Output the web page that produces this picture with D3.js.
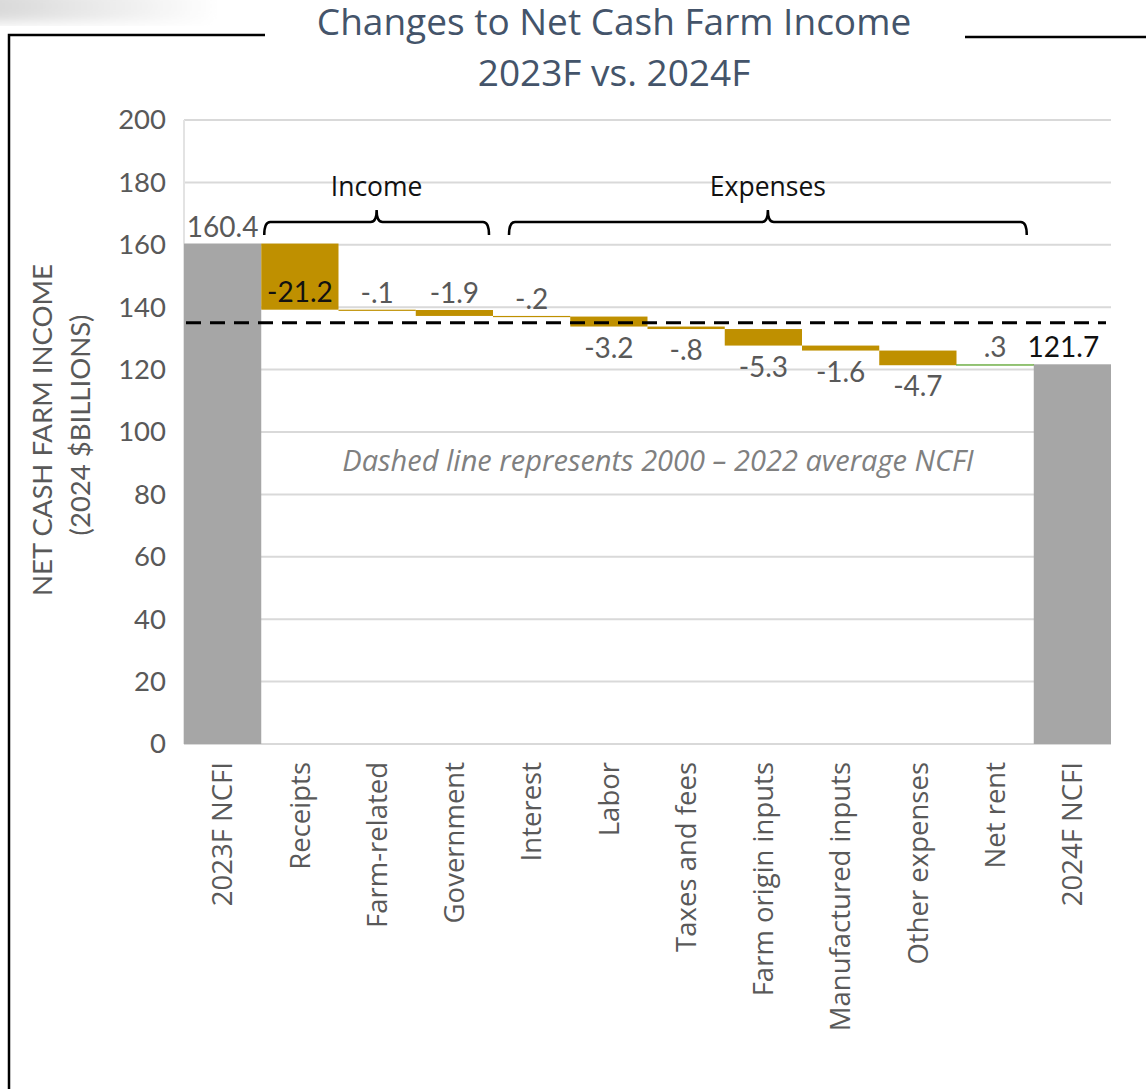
<!DOCTYPE html>
<html>
<head>
<meta charset="utf-8">
<script src="https://cdn.jsdelivr.net/npm/d3@7"></script>
<style>
  html, body { margin: 0; padding: 0; background: #fff; }
  svg { display: block; }
</style>
</head>
<body>
<div class="chart"></div>
<script>
// data
const categories = ["2023F NCFI", "Receipts", "Farm-related", "Government", "Interest", "Labor",
    "Taxes and fees", "Farm origin inputs", "Manufactured inputs", "Other expenses", "Net rent", "2024F NCFI"]
const startTotal = 160.4
const changes = [-21.2, -0.1, -1.9, -0.2, -3.2, -0.8, -5.3, -1.6, -4.7, 0.3]
const endTotal = 121.7
const labels = ["160.4", "-21.2", "-.1", "-1.9", "-.2", "-3.2", "-.8", "-5.3", "-1.6", "-4.7", ".3", "121.7"]
const yTicks = [0, 20, 40, 60, 80, 100, 120, 140, 160, 180, 200]
const averageNcfi = 135.0
const groups = [
    { name: "Income", from: "Receipts", to: "Government" },
    { name: "Expenses", from: "Interest", to: "Net rent" }
]

const W = 1146, H = 1089
const svg = d3.select(".chart").append("svg")
    .attr("width", W)
    .attr("height", H)

// faded corner smudge
const defs = svg.append("defs")
const grad = defs.append("linearGradient").attr("id", "smudge").attr("x1", 0).attr("x2", 1)
grad.append("stop").attr("offset", "0%").attr("stop-color", "#d6d6d6")
grad.append("stop").attr("offset", "100%").attr("stop-color", "#ffffff")
defs.append("filter").attr("id", "blur").append("feGaussianBlur").attr("stdDeviation", 6)
svg.append("rect")
    .attr("x", -20).attr("y", -10).attr("width", 240).attr("height", 32)
    .attr("fill", "url(#smudge)")
    .attr("filter", "url(#blur)")

// frame
const frame = svg.append("g").attr("stroke", "#000").attr("stroke-width", 2.5).attr("fill", "none")
frame.append("path").attr("d", "M9,1089 V35 H265")
frame.append("path").attr("d", "M965,37 H1146")

// title
svg.append("text")
    .attr("x", 614).attr("text-anchor", "middle")
    .style("font-family", "'Open Sans', sans-serif")
    .style("font-size", "37px")
    .attr("fill", "#44546a")
    .selectAll("tspan")
    .data(["Changes to Net Cash Farm Income", "2023F vs. 2024F"])
    .enter().append("tspan")
    .attr("x", 614)
    .attr("y", (d, i) => 35 + i * 51)
    .text(d => d)

const x = d3.scaleBand().domain(categories).range([184, 1111]).paddingInner(0).paddingOuter(0)
const y = d3.scaleLinear().domain([0, 200]).range([744, 120])

// gridlines
svg.append("g")
    .selectAll("line")
    .data(yTicks)
    .enter().append("line")
    .attr("x1", 184).attr("x2", 1111)
    .attr("y1", d => y(d)).attr("y2", d => y(d))
    .attr("stroke", "#d9d9d9").attr("stroke-width", 2)
svg.append("line")
    .attr("x1", 184).attr("x2", 184).attr("y1", y(200)).attr("y2", y(0))
    .attr("stroke", "#e3e3e3").attr("stroke-width", 2)

// y axis
const yAxis = svg.append("g")
    .attr("transform", "translate(184,0)")
    .call(d3.axisLeft(y).tickValues(yTicks).tickSize(0).tickPadding(18))
yAxis.select(".domain").remove()
yAxis.selectAll("text")
    .style("font-family", "Lato, sans-serif")
    .style("font-size", "27.5px")
    .attr("fill", "#595959")

// x axis
const xAxis = svg.append("g")
    .attr("transform", "translate(0,744)")
    .call(d3.axisBottom(x).tickSize(0))
xAxis.select(".domain").remove()
xAxis.selectAll("text")
    .style("font-family", "'Open Sans', sans-serif")
    .style("font-size", "27.5px")
    .attr("fill", "#595959")
    .attr("text-anchor", "end")
    .attr("transform", "rotate(-90)")
    .attr("x", -18)
    .attr("y", 0)
    .attr("dy", "0.35em")
    .attr("dx", 0)

// y title
svg.append("text")
    .attr("transform", "translate(0,430) rotate(-90)")
    .attr("text-anchor", "middle")
    .style("font-family", "Lato, sans-serif")
    .style("font-size", "27.5px")
    .attr("fill", "#595959")
    .selectAll("tspan")
    .data(["NET CASH FARM INCOME", "(2024 $BILLIONS)"])
    .enter().append("tspan")
    .attr("x", (d, i) => i ? 5 : 0)
    .attr("y", (d, i) => 52 + i * 38)
    .text(d => d)

// waterfall steps
let running = startTotal
const steps = [{ cat: categories[0], lo: 0, hi: startTotal, kind: "total", label: labels[0] }]
changes.forEach((c, i) => {
    const next = running + c
    steps.push({
        cat: categories[i + 1],
        lo: Math.min(running, next),
        hi: Math.max(running, next),
        kind: c < 0 ? "down" : "up",
        label: labels[i + 1]
    })
    running = next
})
steps.push({ cat: categories[11], lo: 0, hi: endTotal, kind: "total", label: labels[11] })

const fills = { total: "#a6a6a6", down: "#bf9000", up: "#a9d18e" }

svg.append("g")
    .selectAll("rect")
    .data(steps)
    .enter().append("rect")
    .attr("x", d => x(d.cat))
    .attr("width", x.bandwidth())
    .attr("y", d => y(d.hi))
    .attr("height", d => Math.max(1.2, y(d.lo) - y(d.hi)))
    .attr("fill", d => fills[d.kind])
    .attr("stroke", d => d.kind == "up" ? "#70ad47" : "none")
    .attr("stroke-width", d => d.kind == "up" ? 0.6 : 0)

// dashed average
svg.append("line")
    .attr("x1", 186).attr("x2", 1106)
    .attr("y1", y(averageNcfi)).attr("y2", y(averageNcfi))
    .attr("stroke", "#000").attr("stroke-width", 3)
    .attr("stroke-dasharray", "15,9")

// value labels
const inside = new Set(["Receipts"])
const below = new Set(["Labor", "Taxes and fees", "Farm origin inputs", "Manufactured inputs", "Other expenses"])
const dark = new Set(["Receipts", "2024F NCFI"])
svg.append("g")
    .selectAll("text")
    .data(steps)
    .enter().append("text")
    .attr("x", d => x(d.cat) + x.bandwidth() / 2 - (d.cat == "2024F NCFI" ? 9 : 0))
    .attr("y", d => {
        if (inside.has(d.cat)) return y(d.lo) - 8
        if (below.has(d.cat)) return y(d.lo) + 31
        return y(d.hi) - 7
    })
    .attr("text-anchor", "middle")
    .style("font-family", "Lato, sans-serif")
    .style("font-size", "28px")
    .attr("fill", d => dark.has(d.cat) ? "#111" : "#595959")
    .text(d => d.label)

// group braces
const brace = (x1, x2, yh) => {
    const cx = (x1 + x2) / 2, r = 6
    return `M${x1},${yh + 13} Q${x1},${yh} ${x1 + r},${yh} L${cx - r},${yh} Q${cx},${yh} ${cx},${yh - 12}` +
        ` Q${cx},${yh} ${cx + r},${yh} L${x2 - r},${yh} Q${x2},${yh} ${x2},${yh + 13}`
}
const braceEnds = [[3, -4], [16, -7]]
const bg = svg.append("g")
groups.forEach((g, i) => {
    const x1 = x(g.from) + braceEnds[i][0]
    const x2 = x(g.to) + x.bandwidth() + braceEnds[i][1]
    bg.append("path")
        .attr("d", brace(x1, x2, 222))
        .attr("fill", "none").attr("stroke", "#000").attr("stroke-width", 2.5)
    bg.append("text")
        .attr("x", (x1 + x2) / 2).attr("y", 196)
        .attr("text-anchor", "middle")
        .style("font-family", "'Open Sans', sans-serif")
        .style("font-size", "26.5px")
        .attr("fill", "#111")
        .text(g.name)
})

// note
svg.append("text")
    .attr("x", 658).attr("y", 471)
    .attr("text-anchor", "middle")
    .style("font-family", "'Open Sans', sans-serif")
    .style("font-style", "italic")
    .style("font-size", "29px")
    .attr("fill", "#808080")
    .text("Dashed line represents 2000 \u2013 2022 average NCFI")
</script>
</body>
</html>
